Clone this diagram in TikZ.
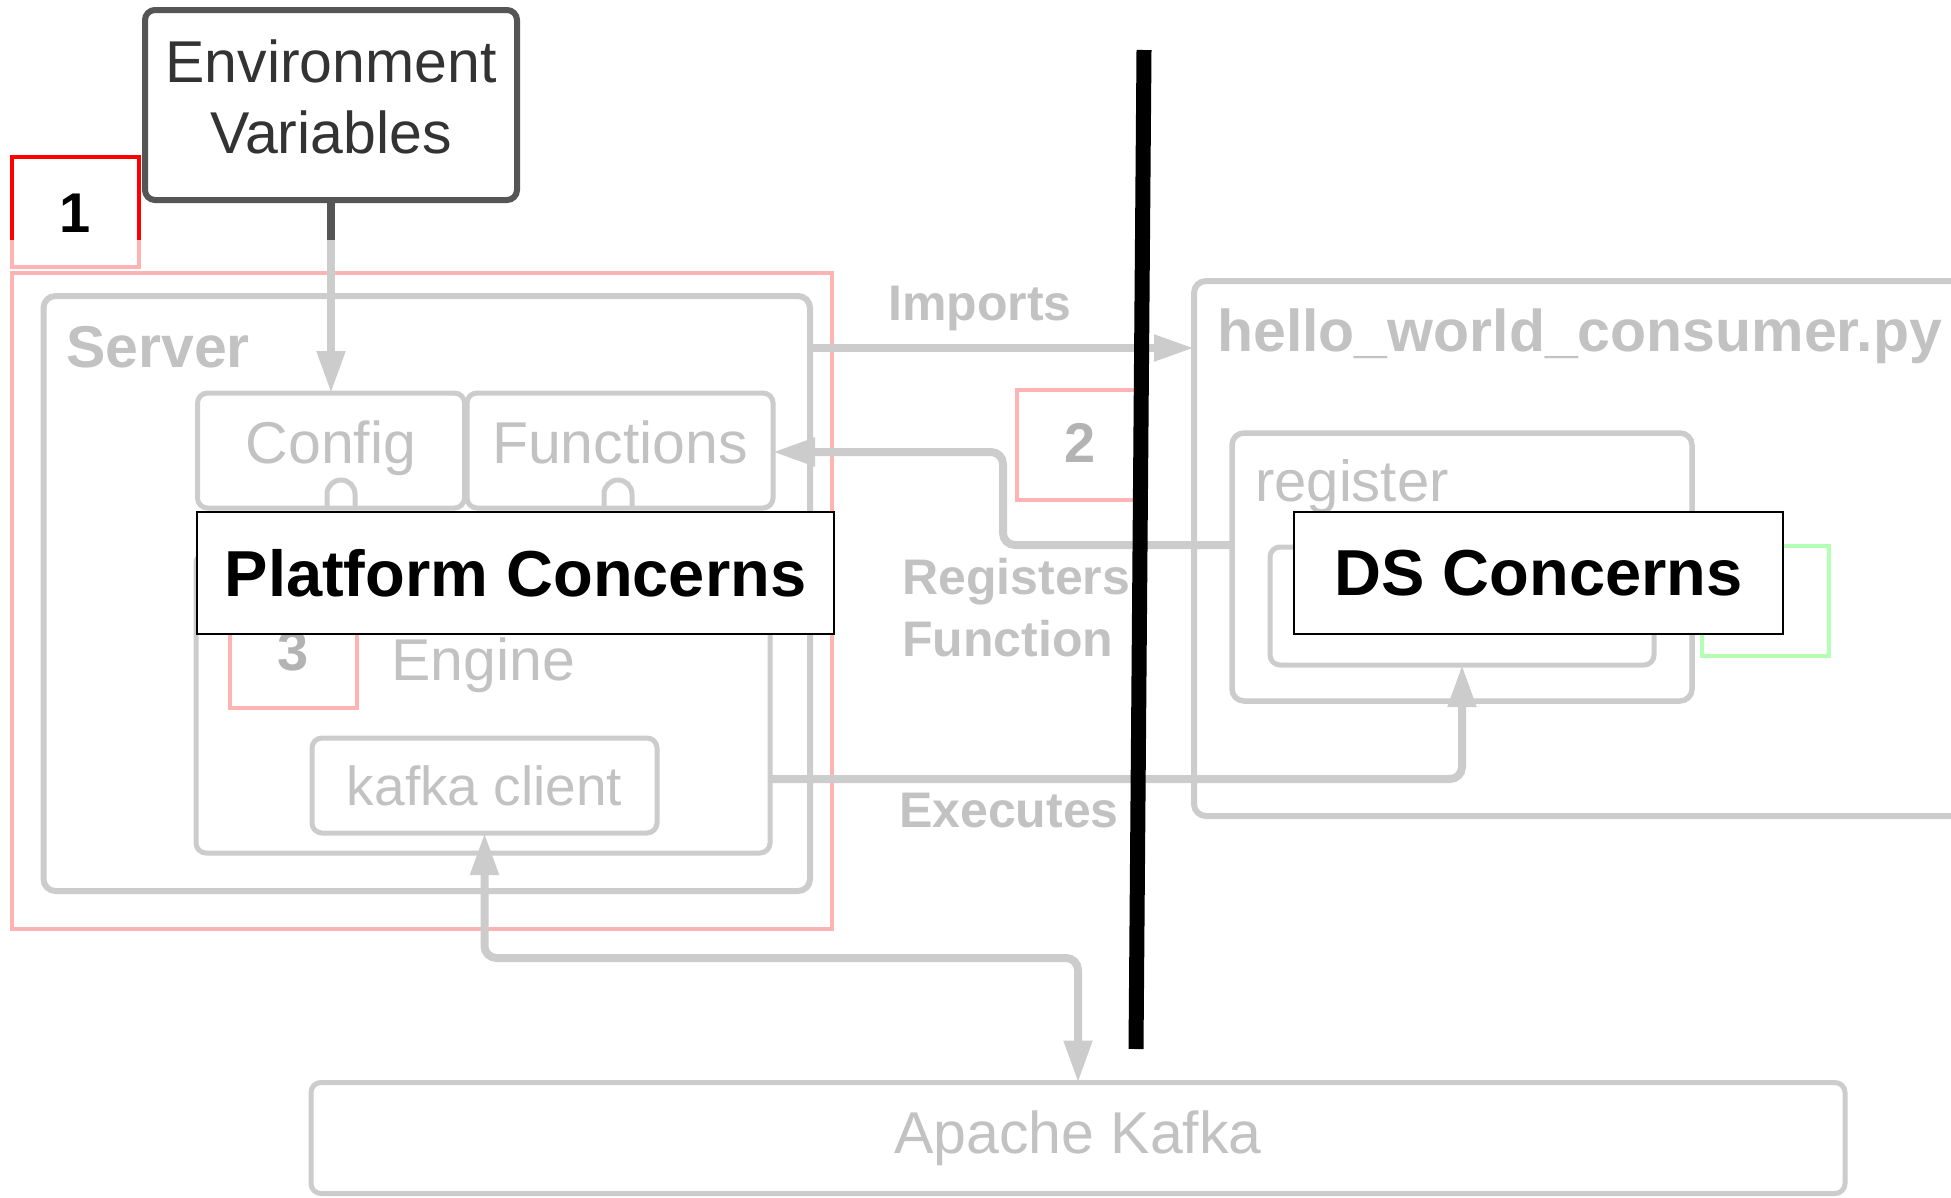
\documentclass[tikz,border=0pt]{standalone}
\usepackage{fontspec}
\setmainfont{Liberation Sans}
\usetikzlibrary{arrows.meta,calc}

\definecolor{fadeline}{HTML}{CCCCCC}
\definecolor{fadetext}{HTML}{C2C2C2}
\definecolor{fadedigit}{HTML}{B3B3B3}
\definecolor{darkline}{HTML}{555555}
\definecolor{darktext}{HTML}{333333}
\definecolor{softred}{HTML}{FFB3B3}
\definecolor{softgreen}{HTML}{B3FFB3}

\newcommand{\sz}[1]{\fontsize{#1pt}{#1pt}\selectfont}

\begin{document}
\begin{tikzpicture}[x=1pt,y=-1pt,
  >={Triangle[length=42pt,width=27pt]},
  rect/.style={inner sep=0pt, outer sep=0pt},
  box/.style={rect, draw=fadeline, line width=5pt, rounded corners=10pt},
  container/.style={box, line width=6pt, rounded corners=12pt},
  frame/.style={rect, draw=softred, line width=3.5pt},
  conn/.style={draw=fadeline, line width=8pt},
  plain/.style={text=fadetext, font=\sz{59}, inner sep=0pt},
  tag/.style={text=fadetext, font=\sz{50}\bfseries, inner sep=0pt, anchor=base west},
  digit/.style={text=fadedigit, font=\sz{56}\bfseries, inner sep=0pt, anchor=base},
  concern/.style={rect, draw=black, line width=2.5pt, fill=white, font=\sz{65}\bfseries, text=black},
]
\useasboundingbox (0,0) rectangle (1951,1197);
\clip (0,0) rectangle (1951,1197);
\fill[white] (0,0) rectangle (1951,1197);

% level below which everything is shown faded
\coordinate (cut) at (0,240);

% ---------- left side: server ----------
\node[rect, draw=darkline, line width=6pt, rounded corners=10pt, fill=white,
      minimum width=372pt, minimum height=190pt] (env) at (331,105) {};
\node[anchor=base, text=darktext, font=\sz{59}, inner sep=0pt] (envA) at (331,82) {Environment};
\node[anchor=base, text=darktext, font=\sz{59}, inner sep=0pt] (envB) at (331,153) {Variables};

\node[rect, minimum width=127pt, minimum height=110pt] (box1) at (75.5,212) {};
\draw[red, line width=3.5pt] (box1.west |- cut) -- (box1.north west) -- (box1.north east) -- (box1.east |- cut);
\draw[softred, line width=3.5pt] (box1.east |- cut) -- (box1.south east) -- (box1.south west) -- (box1.west |- cut);
\node[anchor=base, font=\sz{56}\bfseries, inner sep=0pt] (one) at (75.5,232) {1};

\node[frame, minimum width=820pt, minimum height=656pt] (platform) at (422,601) {};
\node[container, minimum width=766.5pt, minimum height=595pt] (server) at (426.75,593.5) {};
\node[text=fadetext, font=\sz{59}\bfseries, inner sep=0pt, anchor=base west] (serverl) at (66,367) {Server};

\node[box, minimum width=267pt, minimum height=115pt] (config) at (331,450.5) {};
\node[plain, anchor=base] (configl) at (331,463) {Config};
\node[box, minimum width=306pt, minimum height=115pt] (functions) at (620,450.5) {};
\node[plain, anchor=base] (functionsl) at (620,463) {Functions};

% ports on the lower edges of Config and Functions
\foreach \px in {341, 618}{
  \draw[fadeline, line width=5pt] (\px-14,508) -- (\px-14,494) arc[start angle=180, end angle=0, radius=14pt] -- (\px+14,508);
}

\node[box, minimum width=574pt, minimum height=300pt] (engine) at (483,703) {};
\node[plain, anchor=base] (enginel) at (483,680) {Engine};
\node[frame, minimum width=127pt, minimum height=110pt] (box3) at (293.5,653) {};
\node[digit] (three) at (293.5,670) {3};

\node[box, minimum width=345pt, minimum height=95pt] (kclient) at (484.5,785.5) {};
\node[plain, font=\sz{55}, anchor=base] (kclientl) at (484.5,805) {kafka client};

% ---------- right side: consumer module ----------
\node[container, minimum width=816pt, minimum height=535pt] (hello) at (1602,548.5) {};
\node[text=fadetext, font=\sz{59}\bfseries, inner sep=0pt, anchor=base west] (hellol) at (1217,351) {hello\_world\_consumer.py};
\node[container, line width=5.5pt, minimum width=460pt, minimum height=268pt] (register) at (1462,567) {};
\node[plain, font=\sz{58}, anchor=base west] (registerl) at (1255,501) {register};
\node[box, minimum width=384pt, minimum height=118pt] (fninner) at (1462,606) {};
\node[rect, draw=softgreen, line width=3.5pt, minimum width=127pt, minimum height=110pt] (box4) at (1765.5,601) {};

\node[frame, minimum width=127pt, minimum height=110pt] (box2) at (1080.5,445) {};
\node[digit] (two) at (1080.5,462) {2};

% ---------- message broker ----------
\node[box, minimum width=1534pt, minimum height=111pt, text=fadetext, font=\sz{59}] (apache) at (1078,1138) {Apache Kafka};

% ---------- connectors ----------
\draw[darkline, line width=8pt] (env.south) -- (env.south |- cut);
\draw[conn, ->] (env.south |- cut) -- (config.north);

\draw[conn, -{Triangle[length=40pt,width=25pt]}] ([yshift=-52pt]server.north east) -- ([yshift=-52pt]server.north east -| hello.west);

\coordinate (rfbend) at (1003,452);
\draw[conn, rounded corners=12pt, ->] ([yshift=-112pt]register.north west) -| (rfbend) -- (rfbend -| functions.east);

\draw[conn, rounded corners=12pt, ->] ([yshift=74pt]engine.south east) -| (fninner.south);

\draw[conn, rounded corners=12pt, <->] (kclient.south) -- ++(0,125) -| (apache.north);

% connector labels
\node[tag] (imports) at (888,320) {Imports};
\node[tag] (regA) at (902,594) {Registers};
\node[tag] (regB) at (902,656) {Function};
\node[tag] (executes) at (899,827) {Executes};

% ---------- concern labels and divider ----------
\node[concern, minimum width=637pt, minimum height=122pt] (platlabel) at (515.5,573) {Platform Concerns};
\node[concern, minimum width=489pt, minimum height=122pt] (dslabel) at (1538.5,573) {DS Concerns};

\coordinate (divtop) at (1144,50);
\coordinate (divbot) at (1136,1049);
\draw[black, line width=15pt] (divtop) -- (divbot);
\end{tikzpicture}
\end{document}
